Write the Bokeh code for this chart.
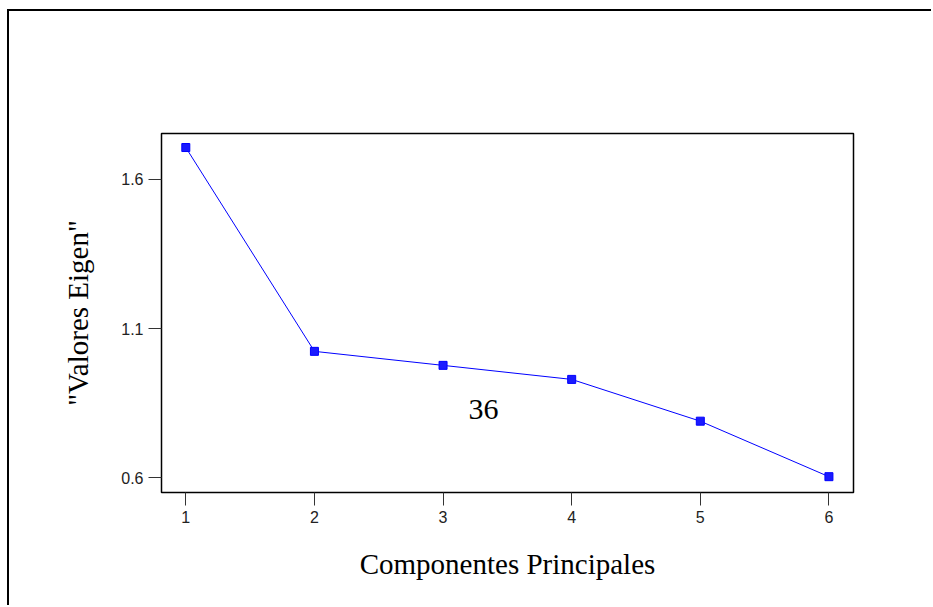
from bokeh.plotting import figure
from bokeh.models import FixedTicker, Range1d, Label
from bokeh.embed import file_html
from bokeh.resources import INLINE

# ---- data ----
components = [1, 2, 3, 4, 5, 6]
eigenvalues = [1.707, 1.024, 0.977, 0.930, 0.790, 0.604]
x_ticks = [1, 2, 3, 4, 5, 6]
y_ticks = [0.6, 1.1, 1.6]
x_title = "Componentes Principales"
y_title = '"Valores Eigen"'
note_text = "36"

p = figure(width=924, height=596, output_backend="svg", toolbar_location=None,
           x_range=Range1d(0.811, 6.191), y_range=Range1d(0.551, 1.754),
           min_border_left=152, min_border_right=80, min_border_top=122,
           min_border_bottom=115,
           styles={"border-left": "2px solid black", "border-top": "2px solid black",
                   "margin-left": "7px", "margin-top": "9px"})

p.background_fill_color = "white"
p.border_fill_color = "white"
p.outline_line_color = "black"
p.outline_line_width = 1.5
p.xgrid.visible = False
p.ygrid.visible = False

for ax in (p.xaxis[0], p.yaxis[0]):
    ax.axis_line_color = None
    ax.major_tick_in = 0
    ax.major_tick_out = 13
    ax.major_tick_line_color = "#333333"
    ax.major_tick_line_width = 1
    ax.minor_tick_line_color = None
    ax.major_label_text_font = "Liberation Sans"
    ax.major_label_text_font_size = "16px"
    ax.major_label_text_color = "#222222"
    ax.major_label_standoff = 5
    ax.axis_label_text_font = "Liberation Serif"
    ax.axis_label_text_font_size = "29px"
    ax.axis_label_text_font_style = "normal"
    ax.axis_label_text_color = "black"

p.xaxis.ticker = FixedTicker(ticks=x_ticks)
p.yaxis.ticker = FixedTicker(ticks=y_ticks)
p.xaxis.axis_label = x_title
p.yaxis.axis_label = y_title
p.xaxis.axis_label_standoff = 22
p.yaxis.axis_label_standoff = 24

p.line(components, eigenvalues, line_color="#0000ff", line_width=1)
p.scatter(components, eigenvalues, marker="square", size=8,
          fill_color="#1a1aff", line_color="#0000ff", line_width=1)

p.add_layout(Label(x=3.315, y=0.829, text=note_text, text_align="center",
                   text_baseline="alphabetic", text_font="Liberation Serif",
                   text_font_size="30px", text_color="black"))

open("out.html", "w").write(file_html(p, INLINE))
